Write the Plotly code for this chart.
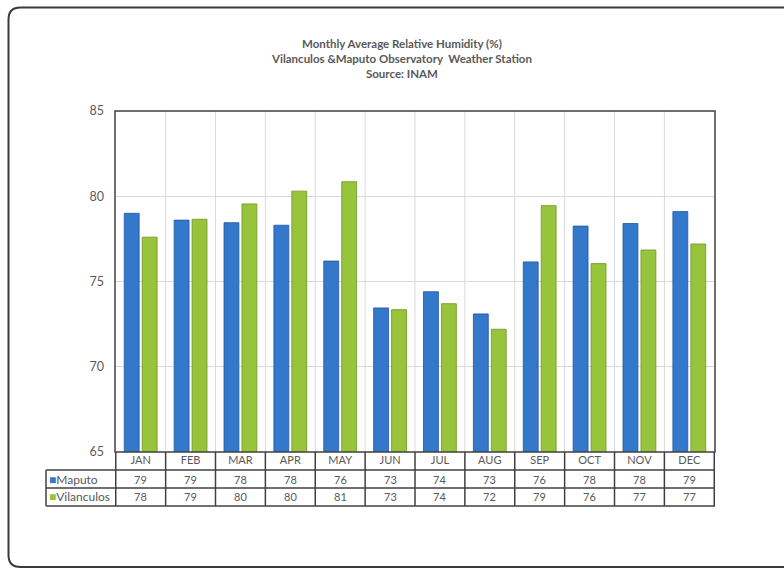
import plotly.graph_objects as go

months = ["JAN", "FEB", "MAR", "APR", "MAY", "JUN", "JUL", "AUG", "SEP", "OCT", "NOV", "DEC"]
maputo = [79.0, 78.6, 78.45, 78.3, 76.2, 73.45, 74.4, 73.1, 76.15, 78.25, 78.4, 79.1]
vilanculos = [77.6, 78.65, 79.55, 80.3, 80.85, 73.35, 73.7, 72.2, 79.45, 76.05, 76.85, 77.2]
series_names = ["Maputo", "Vilanculos"]
y_ticks = [65, 70, 75, 80, 85]

W, H = 784, 568
L, R, T, B = 115, 715, 111, 452          # plot area in pixels
FONT = "Lato"
GREY = "#595959"
DARK = "#404040"
BLUE, BLUE_EDGE = "#3478cc", "#1f56a0"
GREEN, GREEN_EDGE = "#98c43c", "#6d9624"


def px_x(px):
    return (px - L) / (R - L)


def px_y(py):
    return (B - py) / (B - T)


fig = go.Figure()
fig.add_trace(go.Bar(x=months, y=maputo, name=series_names[0],
                     marker=dict(color=BLUE, line=dict(color=BLUE_EDGE, width=0.8))))
fig.add_trace(go.Bar(x=months, y=vilanculos, name=series_names[1],
                     marker=dict(color=GREEN, line=dict(color=GREEN_EDGE, width=0.8))))

shapes = []
n = len(months)
# light vertical gridlines at category boundaries
for i in range(1, n):
    shapes.append(dict(type="line", xref="x", yref="paper", x0=i - 0.5, x1=i - 0.5,
                       y0=0, y1=1, line=dict(color="#d9d9d9", width=1), layer="below"))

# data table under the plot
row_edges = [B, 470, 488, 506]
for i in range(n + 1):
    shapes.append(dict(type="line", xref="x", yref="paper", x0=i - 0.5, x1=i - 0.5,
                       y0=px_y(row_edges[-1]), y1=0, line=dict(color=DARK, width=1.5)))
for ry in row_edges[1:]:
    shapes.append(dict(type="line", xref="paper", yref="paper", x0=px_x(46), x1=1,
                       y0=px_y(ry), y1=px_y(ry), line=dict(color=DARK, width=1.5)))
shapes.append(dict(type="line", xref="paper", yref="paper", x0=px_x(46), x1=px_x(46),
                   y0=px_y(row_edges[1]), y1=px_y(row_edges[-1]), line=dict(color=DARK, width=1.5)))
# plot frame
shapes.append(dict(type="rect", xref="paper", yref="paper", x0=0, x1=1, y0=0, y1=1,
                   line=dict(color=DARK, width=1.5)))

# rounded outer chart border (right side runs off the canvas)
r = 12
x0, y0, x1, y1 = 8.5, 7.5, 810, 567
pts = (f"M {px_x(x1)},{px_y(y0)} L {px_x(x0 + r)},{px_y(y0)} "
       f"Q {px_x(x0)},{px_y(y0)} {px_x(x0)},{px_y(y0 + r)} "
       f"L {px_x(x0)},{px_y(y1 - r)} Q {px_x(x0)},{px_y(y1)} {px_x(x0 + r)},{px_y(y1)} "
       f"L {px_x(x1)},{px_y(y1)}")
shapes.append(dict(type="path", xref="paper", yref="paper", path=pts,
                   line=dict(color="#3a3a3a", width=2)))

annotations = []
row_centres = [(row_edges[1] + row_edges[2]) / 2, (row_edges[2] + row_edges[3]) / 2]
for vals, yc in zip([maputo, vilanculos], row_centres):
    for m, v in zip(months, vals):
        annotations.append(dict(x=m, xref="x", y=px_y(yc), yref="paper", yanchor="middle",
                                xanchor="center", text=str(round(v)), showarrow=False,
                                font=dict(family=FONT, size=11, color=GREY)))
for name, col, yc in zip(series_names, [BLUE, GREEN], row_centres):
    annotations.append(dict(x=px_x(47), xref="paper", y=px_y(yc), yref="paper",
                            xanchor="left", yanchor="middle", showarrow=False,
                            text=f"<span style='color:{col}'>■</span>{name}",
                            font=dict(family=FONT, size=12, color=GREY)))

annotations.append(dict(
    x=px_x(401), xref="paper", y=px_y(35), yref="paper", yanchor="top", xanchor="center",
    showarrow=False,
    text="<b>Monthly Average Relative Humidity (%)</b><br>"
         "<b>Vilanculos &amp;Maputo Observatory \u00a0Weather Station</b><br>"
         "<b>Source: INAM</b>",
    font=dict(family=FONT, size=11.5, color=GREY)))

fig.update_layout(
    width=W, height=H,
    margin=dict(l=L, r=W - R, t=T, b=H - B),
    paper_bgcolor="white", plot_bgcolor="white",
    barmode="group", bargap=0.28, bargroupgap=0.17,
    showlegend=False,
    shapes=shapes, annotations=annotations,
    xaxis=dict(showgrid=False, ticks="", showline=False, zeroline=False,
               tickfont=dict(family=FONT, size=11, color=GREY), ticklabelstandoff=0),
    yaxis=dict(range=[65, 85], tickvals=y_ticks, showgrid=True, gridcolor="#d9d9d9",
               zeroline=False, showline=False, ticks="", ticklabelstandoff=10,
               tickfont=dict(family=FONT, size=12.5, color=GREY)),
)

fig.write_html("out.html")
